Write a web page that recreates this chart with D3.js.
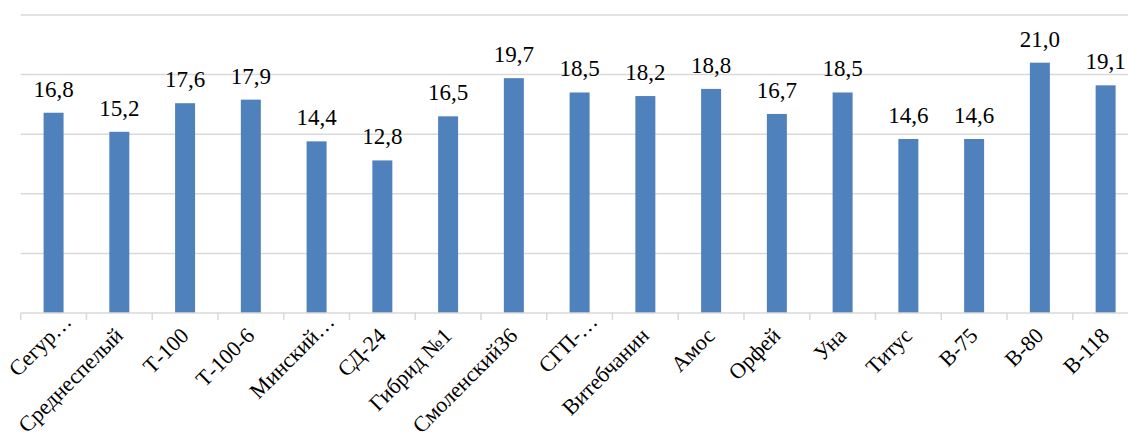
<!DOCTYPE html>
<html>
<head>
<meta charset="utf-8">
<script src="https://cdn.jsdelivr.net/npm/d3@7"></script>
<style>
  html, body { margin: 0; padding: 0; background: #ffffff; }
  svg { display: block; }
  text { font-family: "Liberation Serif", "Times New Roman", serif; fill: #000; }
</style>
</head>
<body>
<svg id="chart" width="1128" height="445"></svg>
<script>
// Varieties (axis labels as shown, long names shortened with an ellipsis)
const categories = [
  "Сегур…", "Среднеспелый", "Т-100", "Т-100-6", "Минский…", "СД-24",
  "Гибрид №1", "Смоленский36", "СГП-…", "Витебчанин", "Амос", "Орфей",
  "Уна", "Титус", "В-75", "В-80", "В-118"
];
// Measured values per variety
const values = [16.8, 15.2, 17.6, 17.9, 14.4, 12.8, 16.5, 19.7, 18.5, 18.2, 18.8, 16.7, 18.5, 14.6, 14.6, 21.0, 19.1];
// Value axis ticks (gridlines only, no tick labels drawn)
const yTicks = [0, 5, 10, 15, 20, 25];

const svg = d3.select("#chart");
const plot = { left: 20.7, right: 1138.5, top: 15, bottom: 313 };

const xCat = d3.scaleBand().domain(categories).range([plot.left, plot.right]).padding(0);
const xBar = d3.scaleBand().domain(categories).range([plot.left, plot.right])
  .paddingInner(0.696).paddingOuter(0.348);
const y = d3.scaleLinear().domain([0, 25]).range([plot.bottom, plot.top]);

const fmt = v => d3.format(".1f")(v).replace(".", ",");

// Horizontal gridlines
svg.append("g")
  .selectAll("line")
  .data(yTicks.filter(t => t > 0))
  .join("line")
  .attr("x1", plot.left).attr("x2", plot.right)
  .attr("y1", d => y(d)).attr("y2", d => y(d))
  .attr("stroke", "#d9d9d9").attr("stroke-width", 1.5);

// Bars
svg.append("g")
  .selectAll("rect")
  .data(values)
  .join("rect")
  .attr("x", (d, i) => xBar(categories[i]))
  .attr("width", xBar.bandwidth())
  .attr("y", d => y(d))
  .attr("height", d => y(0) - y(d))
  .attr("fill", "#4f81bd");

// Category axis: baseline and tick marks between categories
const axis = svg.append("g");
axis.append("line")
  .attr("x1", plot.left).attr("x2", plot.right)
  .attr("y1", y(0)).attr("y2", y(0))
  .attr("stroke", "#d9d9d9").attr("stroke-width", 1.5);
const tickPos = categories.map(c => xCat(c)).concat([xCat(categories[categories.length - 1]) + xCat.bandwidth()]);
axis.selectAll("line.tick")
  .data(tickPos)
  .join("line")
  .attr("class", "tick")
  .attr("x1", d => d).attr("x2", d => d)
  .attr("y1", y(0)).attr("y2", y(0) + 7)
  .attr("stroke", "#d9d9d9").attr("stroke-width", 1.5);

// Rotated category labels; shortened labels sit further along the text line
axis.selectAll("text")
  .data(categories)
  .join("text")
  .attr("text-anchor", "end")
  .attr("font-size", 22)
  .attr("transform", d => {
    const cx = xCat(d) + xCat.bandwidth() / 2 + 5;
    const cy = y(0) + 24;
    const shift = d.endsWith("…") ? 20 : 0;
    return `translate(${cx},${cy}) rotate(-45) translate(${shift},0)`;
  })
  .text(d => d);

// Value labels above bars
svg.append("g")
  .selectAll("text")
  .data(values)
  .join("text")
  .attr("text-anchor", "middle")
  .attr("font-size", 23)
  .attr("x", (d, i) => xBar(categories[i]) + xBar.bandwidth() / 2)
  .attr("y", d => y(d) - 16)
  .text(d => fmt(d));
</script>
</body>
</html>
